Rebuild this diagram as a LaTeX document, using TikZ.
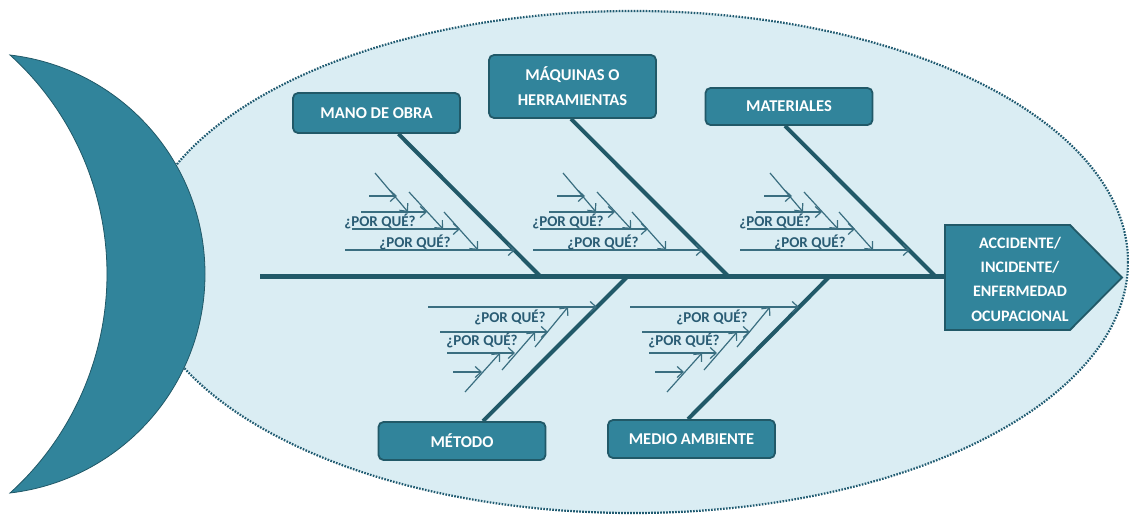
\documentclass[tikz,border=0pt]{standalone}
\usepackage{fontspec}
\setmainfont{Carlito}
\usetikzlibrary{arrows.meta}

\definecolor{fishfill}{HTML}{31849B}
\definecolor{fishline}{HTML}{215968}
\definecolor{bodyfill}{HTML}{DAEDF3}
\definecolor{bodyline}{HTML}{1F5A70}
\definecolor{whyline}{HTML}{3A6E80}
\definecolor{whyink}{HTML}{2A5C74}

\pgfdeclarelayer{body}
\pgfdeclarelayer{bones}
\pgfsetlayers{body,bones,main}

\tikzset{
  catbox/.style={draw=fishline, line width=1.8pt, fill=fishfill, rounded corners=5pt,
    text=white, font=\fontsize{16.5}{25}\selectfont\bfseries, align=center,
    minimum width=167pt, inner sep=0pt},
  spine/.style={draw=fishline, line width=5pt},
  bone/.style={draw=fishline, line width=4pt},
  why/.style={draw=whyline, line width=1.2pt, -{Straight Barb[length=6pt,width=11pt]}},
  whytext/.style={text=whyink, font=\fontsize{15}{17}\selectfont\bfseries, inner sep=0pt},
}

% sub-causes above the spine; #1 = x where the bone meets the spine, #2 = name prefix
\newcommand\whyabove[2]{%
  \begin{scope}[shift={(#1,276)}]
    \draw[why] (-195,-26) -- (-25,-26);
    \draw[why] (-188,-47) -- (-80,-47);
    \draw[why] (-179,-64) -- (-113,-64);
    \draw[why] (-171,-80) -- (-143,-80);
    \draw[why] (-165,-103) -- (-132,-64);
    \draw[why] (-131,-84) -- (-97,-47);
    \draw[why] (-96,-64) -- (-62,-26);
    \node[whytext] (#2a) at (-160,-55) {¿POR QUÉ?};
    \node[whytext] (#2b) at (-125,-34) {¿POR QUÉ?};
  \end{scope}}

% sub-causes below the spine
\newcommand\whybelow[2]{%
  \begin{scope}[shift={(#1,276)}]
    \draw[why] (-200,31) -- (-31,31);
    \draw[why] (-188,56) -- (-80,56);
    \draw[why] (-181,77) -- (-113,77);
    \draw[why] (-175,96) -- (-146,96);
    \draw[why] (-163,116) -- (-128,77);
    \draw[why] (-126,94) -- (-93,56);
    \draw[why] (-93,71) -- (-60,31);
    \node[whytext] (#2a) at (-118,41) {¿POR QUÉ?};
    \node[whytext] (#2b) at (-146,64) {¿POR QUÉ?};
  \end{scope}}

\begin{document}
\begin{tikzpicture}[x=1pt,y=-1pt]
\useasboundingbox (0,0) rectangle (1129,519);

\begin{pgfonlayer}{body}
% body of the fish
\draw[fill=bodyfill, draw=bodyline, line width=2.2pt, dash pattern=on 1.6pt off 1.4pt]
  (633,262) ellipse[x radius=495, y radius=251];
% tail
\draw[fill=fishfill, draw=fishline, line width=0.8pt]
  (10,55) .. controls (121,68) and (205,162) .. (205,274)
          .. controls (205,386) and (121,480) .. (10,493)
          .. controls (72,437) and (107,357) .. (107,274)
          .. controls (107,191) and (72,111) .. cycle;
\end{pgfonlayer}

% head
\draw[fill=fishfill, draw=fishline, line width=1.8pt]
  (945,225) -- (1070,225) -- (1122,277.5) -- (1070,330) -- (945,330) -- cycle;
\node[text=white, font=\fontsize{16}{24.3}\selectfont\bfseries, align=center] (head) at (1020,279)
  {ACCIDENTE/\\INCIDENTE/\\ENFERMEDAD\\OCUPACIONAL};

% junctions on the spine
\coordinate (tail) at (260,276);
\coordinate (headin) at (945,276);
\coordinate (j1) at (540,276);
\coordinate (j2) at (728,276);
\coordinate (j3) at (935,276);
\coordinate (j4) at (628,276);
\coordinate (j5) at (830,276);

% category boxes
\node[catbox, minimum height=40pt] (mano) at (376.5,113) {MANO DE OBRA};
\node[catbox, minimum height=63pt] (maq) at (572.5,86.5) {MÁQUINAS O\\HERRAMIENTAS};
\node[catbox, minimum height=37pt] (mat) at (789,106.5) {MATERIALES};
\node[catbox, minimum height=38pt] (met) at (462,441) {MÉTODO};
\node[catbox, minimum height=38pt] (med) at (691.5,439) {MEDIO AMBIENTE};

\coordinate (m1) at ([xshift=22pt]mano.south);
\coordinate (m2) at ([xshift=-1.5pt]maq.south);
\coordinate (m3) at ([xshift=-4pt]mat.south);
\coordinate (m4) at ([xshift=21pt]met.north);
\coordinate (m5) at ([xshift=-3.5pt]med.north);

% spine and bones, under the boxes
\begin{pgfonlayer}{bones}
\draw[spine] (tail) -- (headin);
\draw[bone] (j1) -- (m1);
\draw[bone] (j2) -- (m2);
\draw[bone] (j3) -- (m3);
\draw[bone] (j4) -- (m4);
\draw[bone] (j5) -- (m5);
\end{pgfonlayer}

% the "why" chains
\whyabove{540}{w1}
\whyabove{728}{w2}
\whyabove{935}{w3}
\whybelow{628}{w4}
\whybelow{830}{w5}
\end{tikzpicture}
\end{document}
